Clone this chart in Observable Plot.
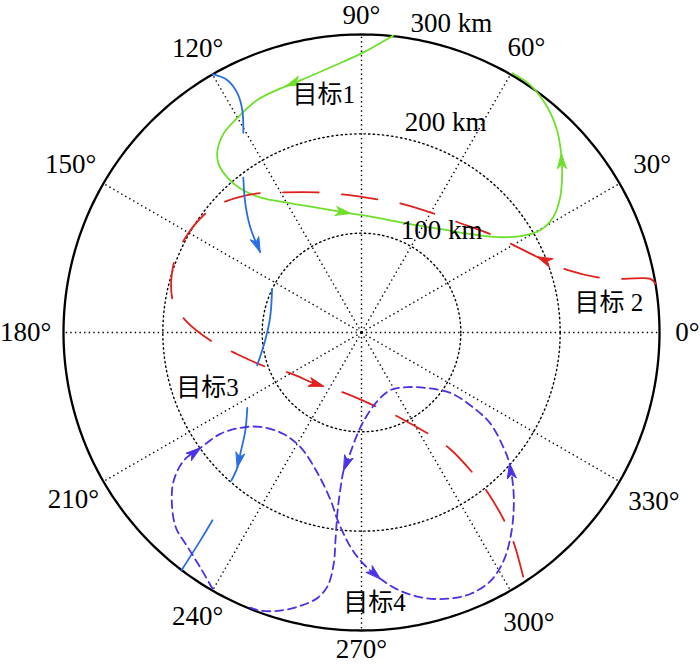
<!DOCTYPE html>
<html>
<head>
<meta charset="utf-8">
<script src="https://cdn.jsdelivr.net/npm/d3@7"></script>
<script src="https://cdn.jsdelivr.net/npm/@observablehq/plot@0.6"></script>
<style>
  body { margin: 0; background: #fff; }
  #chart svg { display: block; }
</style>
</head>
<body>
<div id="chart"></div>
<script>
// ---- polar grid (range in km, angle in degrees) ----
const ringValues = [100, 200];
const rMax = 300;
const spokeAngles = [0, 30, 60, 90, 120, 150, 180, 210, 240, 270, 300, 330];
const angleTickLabels = ["0°", "30°", "60°", "90°", "120°", "150°", "180°", "210°", "240°", "270°", "300°", "330°"];
const angleLabelRadius = [328, 338, 332, 319, 330, 338, 338, 335, 330, 319, 337, 340];
const rangeLabels = ["100 km", "200 km", "300 km"];
const rangeLabelR = [110, 216, 315];
const rangeLabelAngle = [69, 78.4, 81];

// ---- target labels (x east, y north, km) ----
const targetNames = ["目标1", "目标 2", "目标3", "目标4"];
const targetLabelX = [-38, 249, -155, 13];
const targetLabelY = [239, 30, -56, -272];

// ---- tracks (x east, y north, km) ----
const track1 = [[32,299],[2,282],[-31,267],[-61,254],[-76,248],[-105,234],[-125,216],[-139,200],[-145,183],[-144,170],[-135,156],[-122,145],[-102,136],[-71,130],[-41,125],[-11,120],[19,115],[49,109],[80,104],[110,99],[137,96],[160,97],[180,103],[193,116],[200,136],[202,160],[201,180],[197,203],[187,227],[170,249],[152,261]];
const track1Arrows = [4, 15, 26];

const track2 = [[296,49],[291,54],[264,54],[241,55],[207,63],[177,76],[153,88],[130,99],[97,111],[72,120],[39,130],[16,134],[-19,139],[-44,141],[-80,141],[-105,140],[-139,131],[-159,118],[-180,91],[-189,70],[-190,32],[-177,12],[-149,-10],[-129,-20],[-95,-35],[-72,-41],[-48,-51],[-38,-54],[-14,-62],[18,-76],[39,-86],[72,-105],[90,-118],[115,-145],[129,-164],[147,-196],[155,-217],[164,-251]];
const track2Arrows = [5, 27];

const track3Segments = [
  [[-150,260],[-135,254],[-125,241],[-120,224],[-119,201]],
  [[-119,156],[-117,130],[-112,106],[-102,81]],
  [[-90,44],[-92,15],[-97,-8],[-105,-33]],
  [[-115,-76],[-117,-99],[-122,-122],[-125,-136],[-131,-149]],
  [[-150,-189],[-162,-209],[-181,-239]]
];
const track3Arrows = [[1, 3], [3, 3]];

const track4 = [[-150,-258],[-162,-237],[-175,-216],[-187,-196],[-191,-169],[-189,-149],[-179,-129],[-162,-116],[-142,-102],[-122,-96],[-102,-95],[-79,-102],[-61,-116],[-44,-142],[-31,-169],[-24,-189],[-11,-216],[2,-233],[19,-248],[39,-260],[62,-267],[87,-268],[110,-263],[130,-250],[143,-230],[150,-206],[153,-182],[153,-159],[149,-132],[143,-116],[130,-92],[113,-76],[90,-61],[66,-56],[46,-55],[29,-58],[16,-69],[4,-86],[-4,-102],[-13,-126],[-18,-139],[-21,-156],[-24,-179],[-26,-206],[-28,-233],[-34,-255],[-44,-267],[-61,-275],[-82,-280],[-102,-280],[-112,-277]];
const track4Arrows = [7, 18, 28, 40];

// ---- colours ----
const colGreen = "#6ee02c";
const colRed = "#e0201c";
const colBlue = "#2a6fe0";
const colPurple = "#4a30e6";

// ---- derived geometry ----
const rad = d => d * Math.PI / 180;
const circlePts = (r, id) => d3.range(0, 361, 1).map(a => ({x: r * Math.cos(rad(a)), y: r * Math.sin(rad(a)), id}));
const ringRows = ringValues.flatMap(r => circlePts(r, r));
const outerRows = circlePts(rMax, "outer");
const spokeRows = spokeAngles.map(a => ({x1: 0, y1: 0, x2: rMax * Math.cos(rad(a)), y2: rMax * Math.sin(rad(a))}));
const angleLabelRows = spokeAngles.map((a, i) => ({x: angleLabelRadius[i] * Math.cos(rad(a)), y: angleLabelRadius[i] * Math.sin(rad(a)), t: angleTickLabels[i]}));
const rangeLabelRows = rangeLabels.map((t, i) => ({x: rangeLabelR[i] * Math.cos(rad(rangeLabelAngle[i])), y: rangeLabelR[i] * Math.sin(rad(rangeLabelAngle[i])), t}));
const targetRows = targetNames.map((t, i) => ({x: targetLabelX[i], y: targetLabelY[i], t}));

const rows = pts => pts.map(([x, y]) => ({x, y}));
const track3Rows = track3Segments.flatMap((seg, s) => seg.map(([x, y]) => ({x, y, s})));

let arrowId = 0;
function arrowPoly(pts, i, color) {
  const [x1, y1] = pts[i - 1], [x2, y2] = pts[i];
  const d = Math.hypot(x2 - x1, y2 - y1), ux = (x2 - x1) / d, uy = (y2 - y1) / d;
  const px = -uy, py = ux;
  const L = 15, W = 4.5, N = 11;
  const id = arrowId++;
  return [
    [x2, y2],
    [x2 - L * ux + W * px, y2 - L * uy + W * py],
    [x2 - N * ux, y2 - N * uy],
    [x2 - L * ux - W * px, y2 - L * uy - W * py]
  ].map(([x, y]) => ({x, y, id, color}));
}
const arrowRows = [
  ...track1Arrows.flatMap(i => arrowPoly(track1, i, colGreen)),
  ...track2Arrows.flatMap(i => arrowPoly(track2, i, colRed)),
  ...track3Arrows.flatMap(([s, i]) => arrowPoly(track3Segments[s], i, colBlue)),
  ...track4Arrows.flatMap(i => arrowPoly(track4, i, colPurple))
];

const latinFont = "'Liberation Serif', 'Times New Roman', 'Noto Sans CJK SC', serif";
const cjkFont = "'Liberation Serif', 'Noto Sans CJK SC', serif";

const chart = Plot.plot({
  width: 700,
  height: 667,
  marginLeft: 63,
  marginRight: 41,
  marginTop: 34,
  marginBottom: 37,
  x: {domain: [-300, 300], axis: null},
  y: {domain: [-300, 300], axis: null},
  style: {background: "#fff"},
  marks: [
    Plot.line(ringRows, {x: "x", y: "y", z: "id", stroke: "#000", strokeWidth: 1.4, strokeDasharray: "1.4,3.2"}),
    Plot.link(spokeRows, {x1: "x1", y1: "y1", x2: "x2", y2: "y2", stroke: "#000", strokeWidth: 1.4, strokeDasharray: "1.4,3.2"}),
    Plot.line(outerRows, {x: "x", y: "y", stroke: "#000", strokeWidth: 2.3}),
    Plot.line(rows(track1), {x: "x", y: "y", stroke: colGreen, strokeWidth: 1.8, curve: "catmull-rom"}),
    Plot.line(rows(track2), {x: "x", y: "y", stroke: colRed, strokeWidth: 1.8, curve: "catmull-rom", strokeDasharray: "35.6,23.4"}),
    Plot.line(track3Rows, {x: "x", y: "y", z: "s", stroke: colBlue, strokeWidth: 1.8, curve: "catmull-rom"}),
    Plot.line(rows(track4), {x: "x", y: "y", stroke: colPurple, strokeWidth: 1.8, curve: "catmull-rom", strokeDasharray: "8,5"}),
    Plot.line(arrowRows, {x: "x", y: "y", z: "id", fill: "color", stroke: "color", strokeWidth: 1, curve: "linear-closed"}),
    Plot.text(angleLabelRows, {x: "x", y: "y", text: "t", fontSize: 27, fontFamily: latinFont, fill: "#000", textAnchor: "middle"}),
    Plot.text(rangeLabelRows, {x: "x", y: "y", text: "t", fontSize: 27, fontFamily: latinFont, fill: "#000", textAnchor: "start"}),
    Plot.text(targetRows, {x: "x", y: "y", text: "t", fontSize: 25, fontFamily: cjkFont, fill: "#000", textAnchor: "middle"})
  ]
});
chart.style.overflow = "visible";
document.getElementById("chart").appendChild(chart);
</script>
</body>
</html>
